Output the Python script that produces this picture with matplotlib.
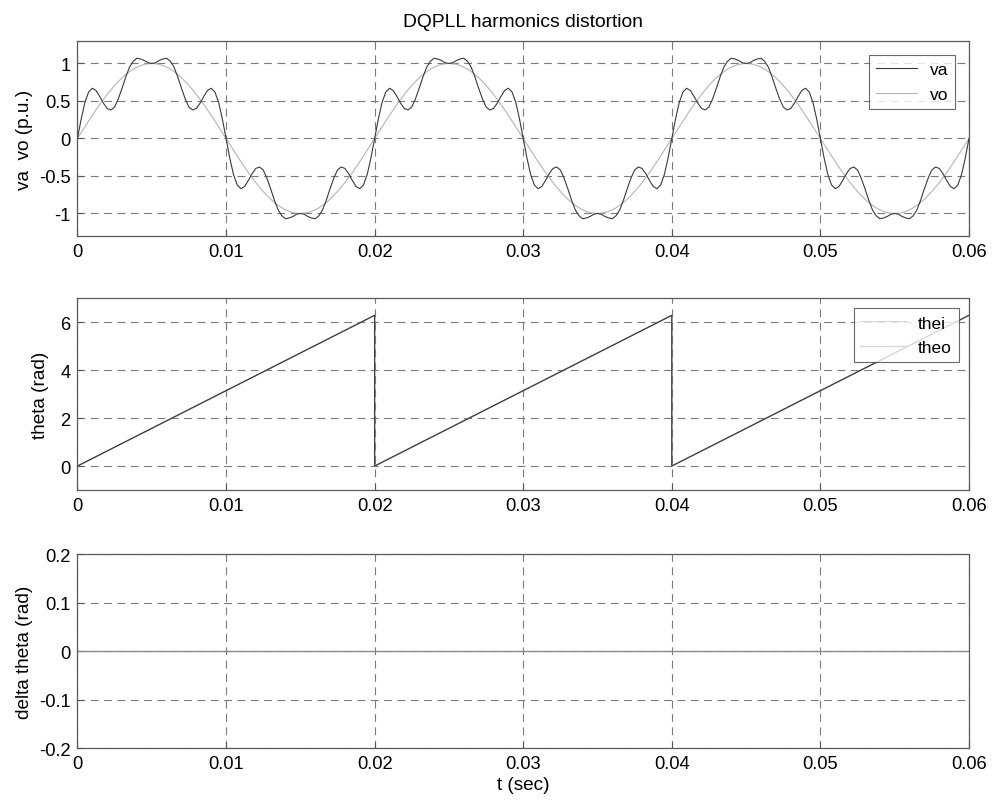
import matplotlib
matplotlib.use("Agg")
import matplotlib.pyplot as plt

plt.rcParams['font.family'] = ['Liberation Sans', 'DejaVu Sans']
plt.rcParams['axes.unicode_minus'] = False

# Sample times for one half cycle of the 50 Hz supply (0.25 ms steps, 0 .. 10 ms)
t_half = [i * 0.00025 for i in range(41)]

# Distorted input voltage va over one positive half cycle (p.u.)
va_half = [0.00, 0.26, 0.48, 0.62, 0.67, 0.64, 0.56, 0.47, 0.40, 0.38,
           0.42, 0.53, 0.67, 0.82, 0.95, 1.03, 1.07, 1.06, 1.04, 1.01,
           1.00, 1.01, 1.04, 1.06, 1.07, 1.03, 0.95, 0.82, 0.67, 0.53,
           0.42, 0.38, 0.40, 0.47, 0.56, 0.64, 0.67, 0.62, 0.48, 0.26,
           0.00]

# PLL output voltage vo over one positive half cycle (p.u.)
vo_half = [0.000, 0.078, 0.156, 0.233, 0.309, 0.383, 0.454, 0.522, 0.588, 0.649,
           0.707, 0.760, 0.809, 0.853, 0.891, 0.924, 0.951, 0.972, 0.988, 0.997,
           1.000, 0.997, 0.988, 0.972, 0.951, 0.924, 0.891, 0.853, 0.809, 0.760,
           0.707, 0.649, 0.588, 0.522, 0.454, 0.383, 0.309, 0.233, 0.156, 0.078,
           0.000]

n_half_cycles = 6
half_period = 0.01

# Phase angle ramps (rad), resetting every cycle
theta_t = [0.0, 0.02, 0.02, 0.04, 0.04, 0.06]
thei_vals = [0.0, 6.28, 0.0, 6.28, 0.0, 6.28]
theo_vals = [0.0, 6.28, 0.0, 6.28, 0.0, 6.28]

# Phase error (rad)
dtheta_t = [0.0, 0.06]
dtheta_vals = [0.0, 0.0]

x_ticks = [0, 0.01, 0.02, 0.03, 0.04, 0.05, 0.06]
x_ticklabels = ['0', '0.01', '0.02', '0.03', '0.04', '0.05', '0.06']

# Assemble the full 60 ms traces from the half-cycle samples
t_va, va, vo = [], [], []
for k in range(n_half_cycles):
    sign = 1 if k % 2 == 0 else -1
    start = 0 if k == 0 else 1
    for i in range(start, len(t_half)):
        t_va.append(k * half_period + t_half[i])
        va.append(sign * va_half[i])
        vo.append(sign * vo_half[i])

fig = plt.figure(figsize=(9.97, 8.03), dpi=100)

left, width = 0.0777, 0.8942
ax1 = fig.add_axes([left, 0.7049, width, 0.2428])
ax2 = fig.add_axes([left, 0.3885, width, 0.2391])
ax3 = fig.add_axes([left, 0.0672, width, 0.2416])

grid_kw = dict(color='#7a7a7a', linestyle=(0, (7, 5)), linewidth=0.8)
tick_fs = 13.2
label_fs = 13.7

for ax in (ax1, ax2, ax3):
    ax.set_xlim(0, 0.06)
    ax.set_xticks(x_ticks)
    ax.set_xticklabels(x_ticklabels)
    ax.grid(True, **grid_kw)
    ax.set_axisbelow(True)
    ax.tick_params(direction='in', length=4, width=0.8, colors='#555555',
                   labelsize=tick_fs, labelcolor='black', pad=5)
    for sp in ax.spines.values():
        sp.set_color('#5a5a5a')
        sp.set_linewidth(0.9)

legend_kw = dict(loc='upper right', fontsize=12.5, frameon=True, fancybox=False,
                 edgecolor='#444444', labelspacing=0.55, handletextpad=0.7)

# Voltages
ax1.plot(t_va, va, color='#3a3a3a', linewidth=0.8, label='va', zorder=3)
ax1.plot(t_va, vo, color='#b4b4b4', linewidth=0.8, label='vo', zorder=2)
ax1.set_ylim(-1.3, 1.3)
ax1.set_yticks([-1, -0.5, 0, 0.5, 1])
ax1.set_yticklabels(['-1', '-0.5', '0', '0.5', '1'])
ax1.set_ylabel('va  vo (p.u.)', fontsize=label_fs, labelpad=4)
ax1.set_title('DQPLL harmonics distortion', fontsize=13.9, pad=11)
leg1 = ax1.legend(handlelength=2.4, borderaxespad=0.8, **legend_kw)
leg1.get_frame().set_linewidth(0.8)

# Phase angles
ax2.plot(theta_t, thei_vals, color='#3a3a3a', linewidth=0.8, label='thei', zorder=3)
ax2.plot(theta_t, theo_vals, color='#9a9a9a', linewidth=1.0, label='theo', zorder=2)
ax2.set_ylim(-1, 7)
ax2.set_yticks([0, 2, 4, 6])
ax2.set_yticklabels(['0', '2', '4', '6'])
ax2.set_ylabel('theta (rad)', fontsize=label_fs, labelpad=8)
leg2 = ax2.legend(handlelength=2.6, borderaxespad=0.6, **legend_kw)
leg2.get_frame().set_linewidth(0.8)
for h in leg2.get_lines():
    h.set_color('#d8d8d8')

# Phase error
ax3.plot(dtheta_t, dtheta_vals, color='#8c8c8c', linewidth=1.0)
ax3.set_ylim(-0.2, 0.2)
ax3.set_yticks([-0.2, -0.1, 0, 0.1, 0.2])
ax3.set_yticklabels(['-0.2', '-0.1', '0', '0.1', '0.2'])
ax3.set_ylabel('delta theta (rad)', fontsize=label_fs, labelpad=4)
ax3.set_xlabel('t (sec)', fontsize=label_fs, labelpad=3)

fig.savefig('out.png', dpi=100)
